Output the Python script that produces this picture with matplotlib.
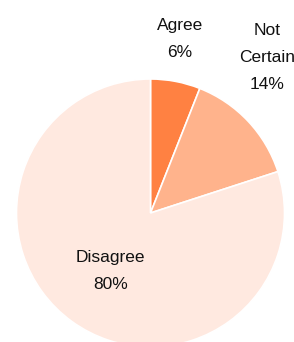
"""Pie chart of survey responses (Agree / Not Certain / Disagree)."""

import numpy as np
import matplotlib
matplotlib.use("Agg")
import matplotlib.pyplot as plt

labels = ["Agree", "Not\nCertain", "Disagree"]
shares = [6, 14, 80]
colors = ["#FF8142", "#FFB38C", "#FFE9E0"]

# label offsets from the pie centre, in units of the radius
label_pos = [(0.22, 1.30), (0.87, 1.16), (-0.30, -0.43)]

W, H = 294, 342
CX, CY, R = 150.5, 129, 134

fig = plt.figure(figsize=(W / 100, H / 100), dpi=100)
ax = fig.add_axes([0, 0, 1, 1])
ax.set_xlim(0, W)
ax.set_ylim(0, H)
ax.set_aspect("equal")
ax.axis("off")

ax.pie(shares, colors=colors, startangle=90, counterclock=False,
       center=(CX, CY), radius=R,
       wedgeprops={"edgecolor": "white", "linewidth": 1.2})
ax.set_xlim(0, W)
ax.set_ylim(0, H)

for lab, val, (dx, dy) in zip(labels, shares, label_pos):
    ax.text(CX + dx * R, CY + dy * R, f"{lab}\n{val}%",
            ha="center", va="center", fontsize=12.5, linespacing=2.0,
            family="Liberation Sans", color="#111111")

fig.savefig("out.png", dpi=100)
